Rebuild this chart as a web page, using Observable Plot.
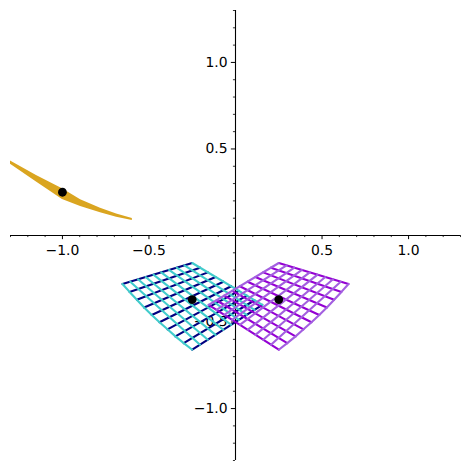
<!DOCTYPE html>
<html>
<head>
<meta charset="utf-8">
<script src="https://cdn.jsdelivr.net/npm/d3@7"></script>
<script src="https://cdn.jsdelivr.net/npm/@observablehq/plot@0.6"></script>
<style>html,body{margin:0;padding:0;background:#fff}svg{display:block;max-width:none;text-rendering:geometricPrecision}</style>
</head>
<body>
<div id="chart"></div>
<script>
// Left grid: the edges that carry the ends of each line family
const leftNavyStart = [[-.653,-.280],[-.612,-.326],[-.570,-.371],[-.528,-.416],[-.484,-.459],[-.439,-.501],[-.393,-.542],[-.347,-.583],[-.299,-.622],[-.250,-.660]];
const leftNavyEnd   = [[-.250,-.159],[-.205,-.186],[-.160,-.213],[-.115,-.240],[-.070,-.267],[-.025,-.293],[.020,-.320],[.065,-.347],[.110,-.374],[.155,-.401]];
const leftCyanStart = [[-.653,-.280],[-.608,-.267],[-.563,-.253],[-.519,-.240],[-.474,-.226],[-.429,-.213],[-.384,-.199],[-.340,-.186],[-.295,-.172],[-.250,-.159]];
const leftCyanEnd   = [[-.250,-.660],[-.205,-.631],[-.160,-.602],[-.115,-.574],[-.070,-.545],[-.025,-.516],[.020,-.487],[.065,-.459],[.110,-.430],[.155,-.401]];
// Right grid
const rightVioletStart = [[.653,-.280],[.612,-.326],[.570,-.371],[.528,-.416],[.484,-.459],[.439,-.501],[.393,-.542],[.347,-.583],[.299,-.622],[.250,-.660]];
const rightVioletEnd   = [[.250,-.159],[.205,-.186],[.160,-.213],[.115,-.240],[.070,-.267],[.025,-.293],[-.020,-.320],[-.065,-.347],[-.110,-.374],[-.155,-.401]];
const rightPurpleStart = [[.653,-.280],[.608,-.267],[.563,-.253],[.519,-.240],[.474,-.226],[.429,-.213],[.384,-.199],[.340,-.186],[.295,-.172],[.250,-.159]];
const rightPurpleEnd   = [[.250,-.660],[.205,-.631],[.160,-.602],[.115,-.574],[.070,-.545],[.025,-.516],[-.020,-.487],[-.065,-.459],[-.110,-.430],[-.155,-.401]];
// Thin gold sliver
const goldX    = [-1.3, -1.15, -1.0, -.895, -.78, -.687, -.596];
const goldTop  = [.430, .347, .270, .206, .157, .124, .098];
const goldLow  = [.412, .309, .208, .168, .131, .106, .086];
// Black points
const pointX = [-1.0, -.25, .25];
const pointY = [.25, -.37, -.37];
// Axes
const majorTicks = [-1, -.5, .5, 1];
const minorTicks = [-1.3,-1.2,-1.1,-.9,-.8,-.7,-.6,-.4,-.3,-.2,-.1,.1,.2,.3,.4,.6,.7,.8,.9,1.1,1.2,1.3];
const tickText = ["\u22121.0", "\u22120.5", "0.5", "1.0"];

const family = (starts, ends, curvedFirst) => starts.flatMap((s, i) => {
  const pts = (curvedFirst && i === 0) ? curvedFirst : [s, ends[i]];
  return pts.map(p => ({x: p[0], y: p[1], line: i}));
});
const gridLine = (rows, stroke) => Plot.line(rows, {x: "x", y: "y", z: "line", stroke, strokeWidth: 2.1, curve: "linear"});
const gold = goldX.map((x, i) => ({x, top: goldTop[i], low: goldLow[i]}));
const MAJ = 0.024, MIN = 0.012, LW = 1.1, FS = 13.9;

const chart = Plot.plot({
  width: 469, height: 470,
  marginLeft: 10, marginRight: 9, marginTop: 10, marginBottom: 10,
  style: {background: "#fff", fontFamily: "DejaVu Sans"},
  x: {domain: [-1.3, 1.3], axis: null},
  y: {domain: [-1.3, 1.3], axis: null},
  marks: [
    Plot.ruleY([0], {x1: -1.3, x2: 1.3, stroke: "#000", strokeWidth: LW}),
    Plot.ruleX([0], {y1: -1.3, y2: 1.3, stroke: "#000", strokeWidth: LW}),
    Plot.ruleX(majorTicks, {x: d => d, y1: 0, y2: -MAJ, stroke: "#000", strokeWidth: 1}),
    Plot.ruleX(minorTicks, {x: d => d, y1: 0, y2: -MIN, stroke: "#000", strokeWidth: .8}),
    Plot.ruleY(majorTicks, {y: d => d, x1: 0, x2: -MAJ, stroke: "#000", strokeWidth: 1}),
    Plot.ruleY(minorTicks, {y: d => d, x1: 0, x2: -MIN, stroke: "#000", strokeWidth: .8}),
    Plot.text(majorTicks, {x: d => d, y: 0, dy: 15, text: (d, i) => tickText[i], fontSize: FS, fill: "#000"}),
    Plot.text(majorTicks, {x: 0, y: d => d, dx: -8, textAnchor: "end", text: (d, i) => tickText[i], fontSize: FS, fill: "#000"}),
    Plot.area(gold, {x1: "x", y1: "top", x2: "x", y2: "low", fill: "#daa520"}),
    gridLine(family(leftNavyStart, leftNavyEnd), "#000080"),
    gridLine(family(leftCyanStart, leftCyanEnd, leftNavyStart), "#40cccc"),
    gridLine(family(rightVioletStart, rightVioletEnd), "#9400d3"),
    gridLine(family(rightPurpleStart, rightPurpleEnd, rightVioletStart), "#a35fe0"),
    Plot.dot(pointX, {x: d => d, y: (d, i) => pointY[i], r: 4.4, fill: "#000", stroke: "none"})
  ]
});
document.getElementById("chart").append(chart);
</script>
</body>
</html>
